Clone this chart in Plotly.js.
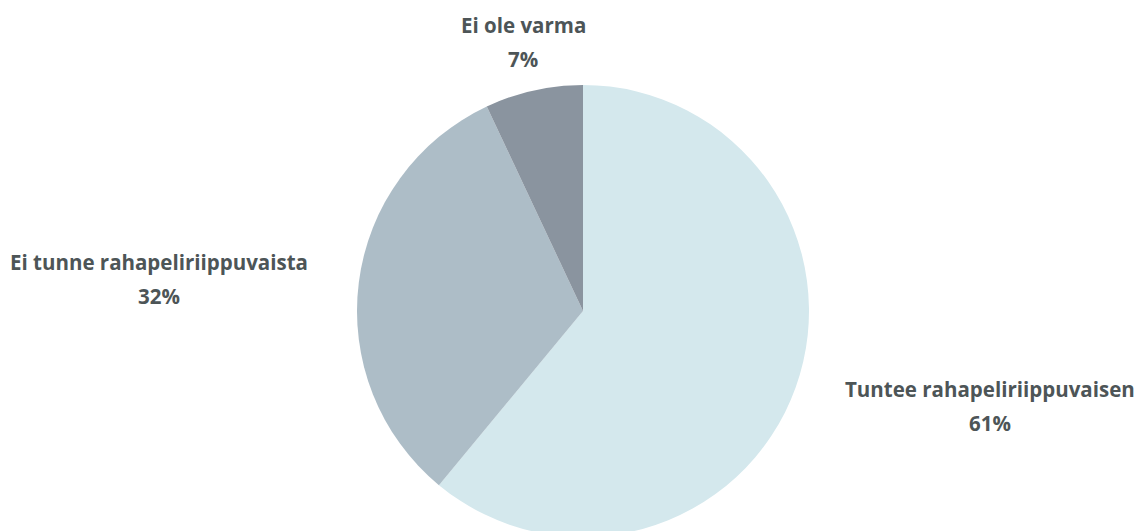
<!DOCTYPE html>
<html>
<head>
<meta charset="utf-8">
<script src="https://cdn.plot.ly/plotly-3.0.1.min.js"></script>
<style>
html,body{margin:0;padding:0;overflow:hidden;background:#fff;}
#chart{width:1137px;height:600px;}
</style>
</head>
<body>
<div id="chart"></div>
<script>
const categories = ["Tuntee rahapeliriippuvaisen", "Ei tunne rahapeliriippuvaista", "Ei ole varma"];
const values = [61, 32, 7];
const colors = ["#d4e8ed", "#adbdc7", "#8a949f"];

const W = 1137, H = 600, mL = 29, mR = 0, mT = 85, mB = 63;
const pw = W - mL - mR, ph = H - mT - mB;
const px = x => (x - mL) / pw;
const py = y => (H - mB - y) / ph;

// label centre positions (pixels) for each category
const labelPos = [[990, 389], [159, 262], [523, 25]];
const lineGap = 34;
const font = {family: "Open Sans, sans-serif", size: 20.5, color: "#4d5557", weight: 700};

const annotations = [];
categories.forEach((c, i) => {
  const [x, y] = labelPos[i];
  annotations.push({xref: "paper", yref: "paper", x: px(x), y: py(y), text: "<b>" + c + "</b>",
    showarrow: false, xanchor: "center", yanchor: "middle", font: font});
  annotations.push({xref: "paper", yref: "paper", x: px(x), y: py(y + lineGap), text: "<b>" + values[i] + "%</b>",
    showarrow: false, xanchor: "center", yanchor: "middle", font: font});
});

Plotly.newPlot("chart", [{
  type: "pie",
  labels: categories,
  values: values,
  sort: false,
  direction: "clockwise",
  rotation: 0,
  marker: {colors: colors, line: {width: 0}},
  textinfo: "none",
  hoverinfo: "label+percent",
  showlegend: false
}], {
  width: W, height: H,
  margin: {l: mL, r: mR, t: mT, b: mB},
  paper_bgcolor: "#fff",
  showlegend: false,
  annotations: annotations
}, {displayModeBar: false, staticPlot: true});
</script>
</body>
</html>
